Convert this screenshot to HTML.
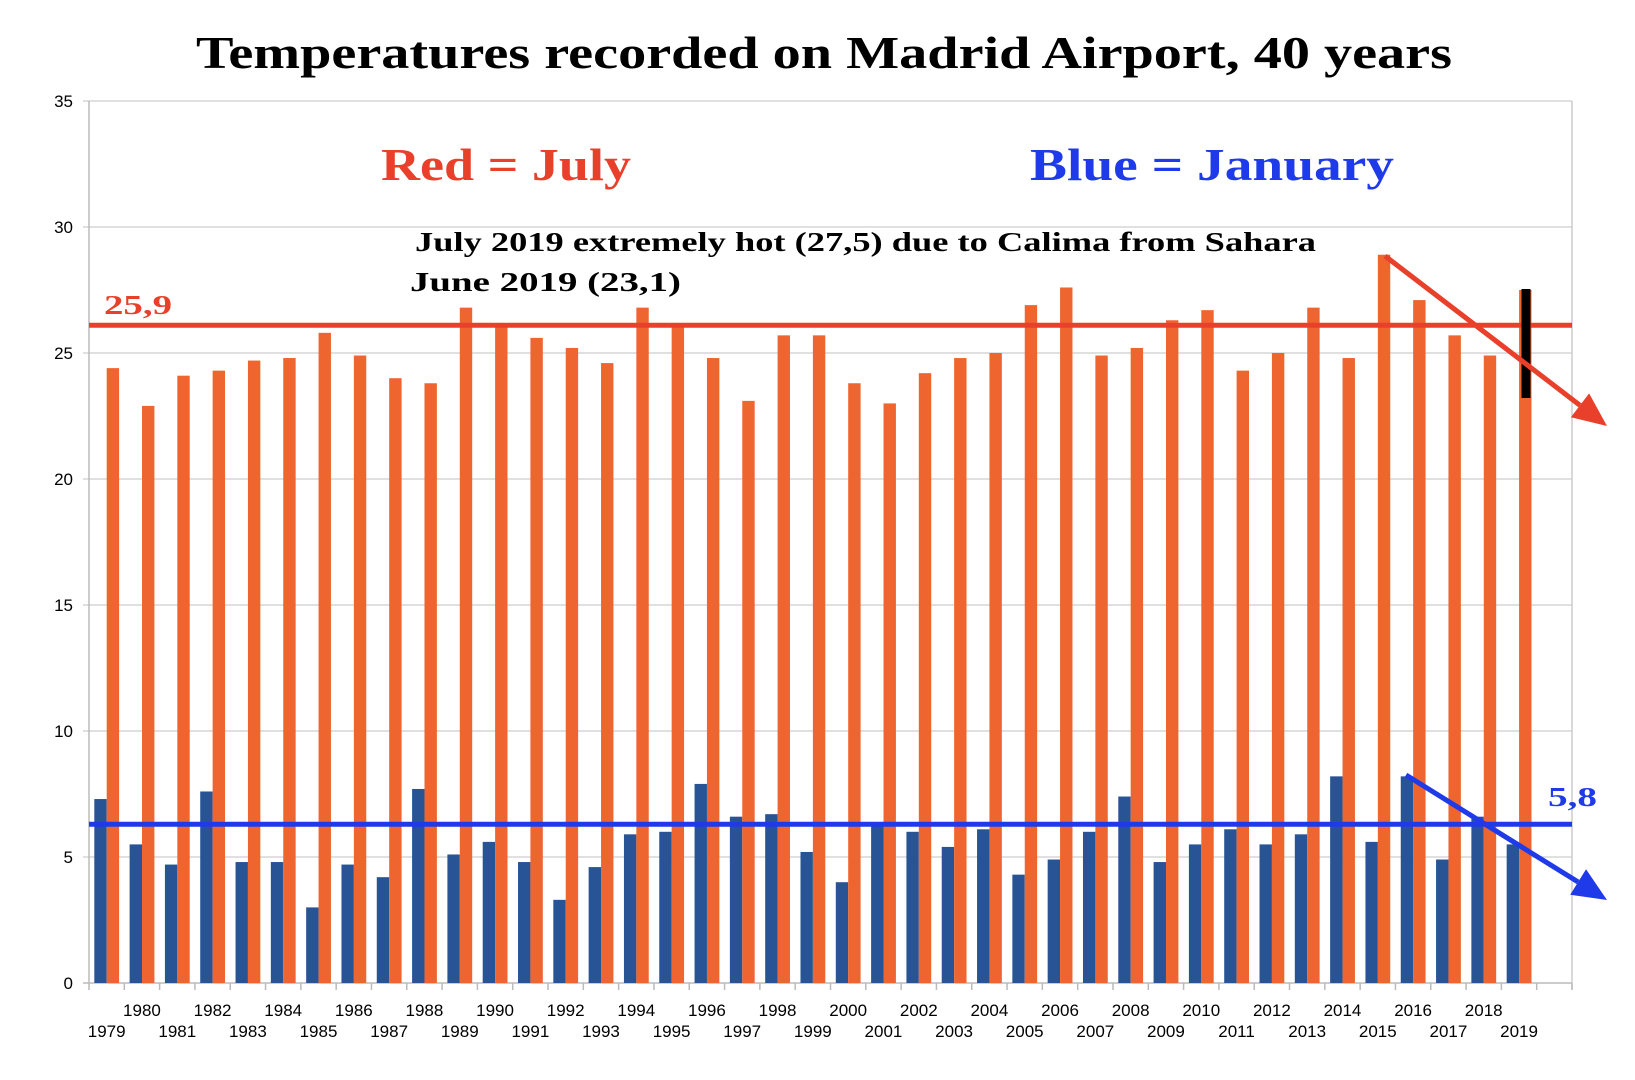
<!DOCTYPE html>
<html><head><meta charset="utf-8"><style>
html,body{margin:0;padding:0;background:#fff;}
svg{display:block;}
text{font-family:"Liberation Sans",sans-serif;}
.h{font-family:"Liberation Serif",serif;font-weight:bold;}
</style></head><body>
<svg id="chart" width="1635" height="1080" viewBox="0 0 1635 1080" xmlns="http://www.w3.org/2000/svg">
<g id="grid"></g>
<g id="bars"></g>
<g id="axes"></g>
<text class="h" x="824" y="68" text-anchor="middle" font-size="46" textLength="1256" lengthAdjust="spacingAndGlyphs" fill="#000">Temperatures recorded on Madrid Airport, 40 years</text>
<text class="h" x="381" y="180" font-size="46" textLength="250" lengthAdjust="spacingAndGlyphs" fill="#e8402a">Red = July</text>
<text class="h" x="1030" y="180" font-size="46" textLength="364" lengthAdjust="spacingAndGlyphs" fill="#1f3ae8">Blue = January</text>
<text class="h" x="415" y="251" font-size="27" textLength="901" lengthAdjust="spacingAndGlyphs" fill="#000">July 2019 extremely hot (27,5) due to Calima from Sahara</text>
<text class="h" x="410" y="291" font-size="27" textLength="271" lengthAdjust="spacingAndGlyphs" fill="#000">June 2019 (23,1)</text>
<text class="h" x="104" y="314" font-size="27" textLength="68" lengthAdjust="spacingAndGlyphs" fill="#e8402a">25,9</text>
<text class="h" x="1548" y="806" font-size="27" textLength="49" lengthAdjust="spacingAndGlyphs" fill="#1f3ae8">5,8</text>
<g id="overlay"></g>
</svg>
<script>
const years = ["1979","1980","1981","1982","1983","1984","1985","1986","1987","1988","1989","1990","1991","1992","1993","1994","1995","1996","1997","1998","1999","2000","2001","2002","2003","2004","2005","2006","2007","2008","2009","2010","2011","2012","2013","2014","2015","2016","2017","2018","2019"];
const january = [7.3,5.5,4.7,7.6,4.8,4.8,3.0,4.7,4.2,7.7,5.1,5.6,4.8,3.3,4.6,5.9,6.0,7.9,6.6,6.7,5.2,4.0,6.3,6.0,5.4,6.1,4.3,4.9,6.0,7.4,4.8,5.5,6.1,5.5,5.9,8.2,5.6,8.2,4.9,6.6,5.5];
const july = [24.4,22.9,24.1,24.3,24.7,24.8,25.8,24.9,24.0,23.8,26.8,26.1,25.6,25.2,24.6,26.8,26.1,24.8,23.1,25.7,25.7,23.8,23.0,24.2,24.8,25.0,26.9,27.6,24.9,25.2,26.3,26.7,24.3,25.0,26.8,24.8,28.9,27.1,25.7,24.9,27.5];
const yTicks = [0,5,10,15,20,25,30,35];
const julyAvgLine = 26.1;
const janAvgLine = 6.3;

const NS="http://www.w3.org/2000/svg";
const X0=89, X1=1572, Y0=983, YTOP=101, YMAX=35, NCAT=42;
const cw=(X1-X0)/NCAT;
function y(v){return Y0-(Y0-YTOP)*v/YMAX;}
function xc(i){return X0+cw*i;}
function mk(parent,tag,attrs){const e=document.createElementNS(NS,tag);for(const k in attrs)e.setAttribute(k,attrs[k]);parent.appendChild(e);return e;}
const grid=document.getElementById('grid'),bars=document.getElementById('bars'),axes=document.getElementById('axes'),ov=document.getElementById('overlay');

yTicks.forEach(t=>{
  const l=mk(grid,'line',{x1:X0-6,x2:X1,y1:y(t),y2:y(t),stroke:t===0?'#bbb':'#d6d6d6','stroke-width':1.5});
  
  
  const tx=mk(axes,'text',{x:73,y:y(t)+6,'text-anchor':'end','font-size':17,fill:'#000'});
  tx.textContent=t;
  
  
});
const ya=mk(axes,'line',{x1:X0,x2:X0,y1:YTOP,y2:Y0,stroke:'#bbb','stroke-width':1.5});


const ra=mk(axes,'line',{x1:X1,x2:X1,y1:YTOP,y2:Y0+6,stroke:'#ccc','stroke-width':1.5});


for(let i=0;i<=NCAT;i++){
  const t=mk(axes,'line',{x1:xc(i),x2:xc(i),y1:Y0,y2:Y0+7,stroke:'#bbb','stroke-width':1.5});
  
  
}
const bw=12.4;
years.forEach((yr,i)=>{
  const gx=xc(i)+5.3;
  const b=mk(bars,'rect',{x:gx,y:y(january[i]),width:bw,height:Y0-y(january[i]),fill:'#285495'});
  
  
  const r=mk(bars,'rect',{x:gx+bw,y:y(july[i]),width:bw,height:Y0-y(july[i]),fill:'#ee6530'});
  
  
  const even=(+yr)%2===0;
  const tx=mk(axes,'text',{x:xc(i)+cw/2,y:even?1016:1037,'text-anchor':'middle','font-size':17,fill:'#000'});
  tx.textContent=yr;
  
  
});
const rl=mk(ov,'line',{x1:X0,x2:X1,y1:y(julyAvgLine),y2:y(julyAvgLine),stroke:'#e8402a','stroke-width':5});


const bl=mk(ov,'line',{x1:X0,x2:X1,y1:y(janAvgLine),y2:y(janAvgLine),stroke:'#1f3ae8','stroke-width':5});


const blk=mk(ov,'line',{x1:1526,x2:1526,y1:289,y2:398,stroke:'#000','stroke-width':9});


function arrow(x1,y1,x2,y2,col,name){
  const g=mk(ov,'g',{});
  
  
  const a=Math.atan2(y2-y1,x2-x1),L=34,W=15;
  const bx=x2-L*Math.cos(a),by=y2-L*Math.sin(a);
  mk(g,'line',{x1:x1,y1:y1,x2:bx,y2:by,stroke:col,'stroke-width':5});
  const px=-Math.sin(a)*W,py=Math.cos(a)*W;
  mk(g,'polygon',{points:`${x2},${y2} ${bx+px},${by+py} ${bx-px},${by-py}`,fill:col});
}
arrow(1385,256,1607,426,'#e8402a','july-trend-arrow');
arrow(1406,775,1607,900,'#1f3ae8','january-trend-arrow');
</script>
</body></html>
